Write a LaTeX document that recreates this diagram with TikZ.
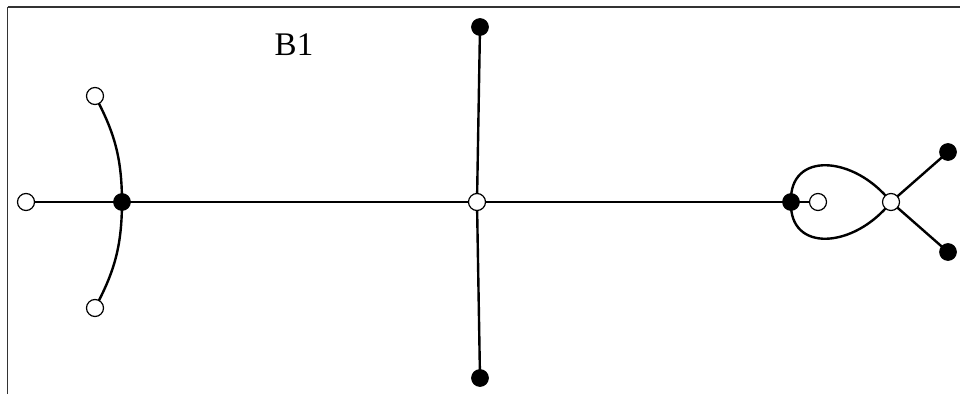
\documentclass[tikz,border=0pt]{standalone}
\usepackage{fontspec}
\setmainfont{Liberation Serif}
\begin{document}
\begin{tikzpicture}[x=1pt,y=1pt,
  opennode/.style={circle,draw=black,fill=white,line width=1.2pt,minimum size=17pt,inner sep=0pt},
  fillnode/.style={circle,draw=black,fill=black,line width=1.2pt,minimum size=16.5pt,inner sep=0pt},
  edge/.style={line width=2.4pt,black},
  frametop/.style={line width=2pt,draw=black!80},
  frameleft/.style={line width=1.4pt,draw=black!80}]
\useasboundingbox (0,0) rectangle (960,394);
\coordinate (fa) at (7.5,0);
\coordinate (fb) at (7.5,386.5);
\coordinate (fc) at (960,386.5);
\draw[frameleft] (fa) -- (fb);
\draw[frametop] (fb) -- (fc);
% node positions
\coordinate (pL) at (26,192);
\coordinate (pF) at (122,192);
\coordinate (pT) at (95,298);
\coordinate (pBo) at (95,86);
\coordinate (pC) at (477,192);
\coordinate (pCT) at (480,367);
\coordinate (pCB) at (480,16);
\coordinate (pR1) at (791,192);
\coordinate (pR2) at (818,192);
\coordinate (pR3) at (891,192);
\coordinate (pR4) at (948,242);
\coordinate (pR5) at (948,142);
\coordinate (k1) at (789,243);
\coordinate (k2) at (854,239);
\coordinate (k3) at (789,141);
\coordinate (k4) at (854,145);
% edges
\draw[edge] (pL) -- (pF) -- (pC) -- (pR1) -- (pR2);
\draw[edge] (pT) to[bend left=14] (pF) to[bend left=14] (pBo);
\draw[edge] (pCT) -- (pC) -- (pCB);
\draw[edge] (pR1) .. controls (k1) and (k2) .. (pR3);
\draw[edge] (pR1) .. controls (k3) and (k4) .. (pR3);
\draw[edge] (pR3) -- (pR4);
\draw[edge] (pR3) -- (pR5);
% nodes
\node[opennode] (L) at (pL) {};
\node[fillnode] (F) at (pF) {};
\node[opennode] (T) at (pT) {};
\node[opennode] (Bo) at (pBo) {};
\node[opennode] (C) at (pC) {};
\node[fillnode] (CT) at (pCT) {};
\node[fillnode] (CB) at (pCB) {};
\node[fillnode] (R1) at (pR1) {};
\node[opennode] (R2) at (pR2) {};
\node[opennode] (R3) at (pR3) {};
\node[fillnode] (R4) at (pR4) {};
\node[fillnode] (R5) at (pR5) {};
\node[inner sep=0pt] (lab) at (294,349) {\fontsize{33}{38}\selectfont B1};
\end{tikzpicture}
\end{document}
